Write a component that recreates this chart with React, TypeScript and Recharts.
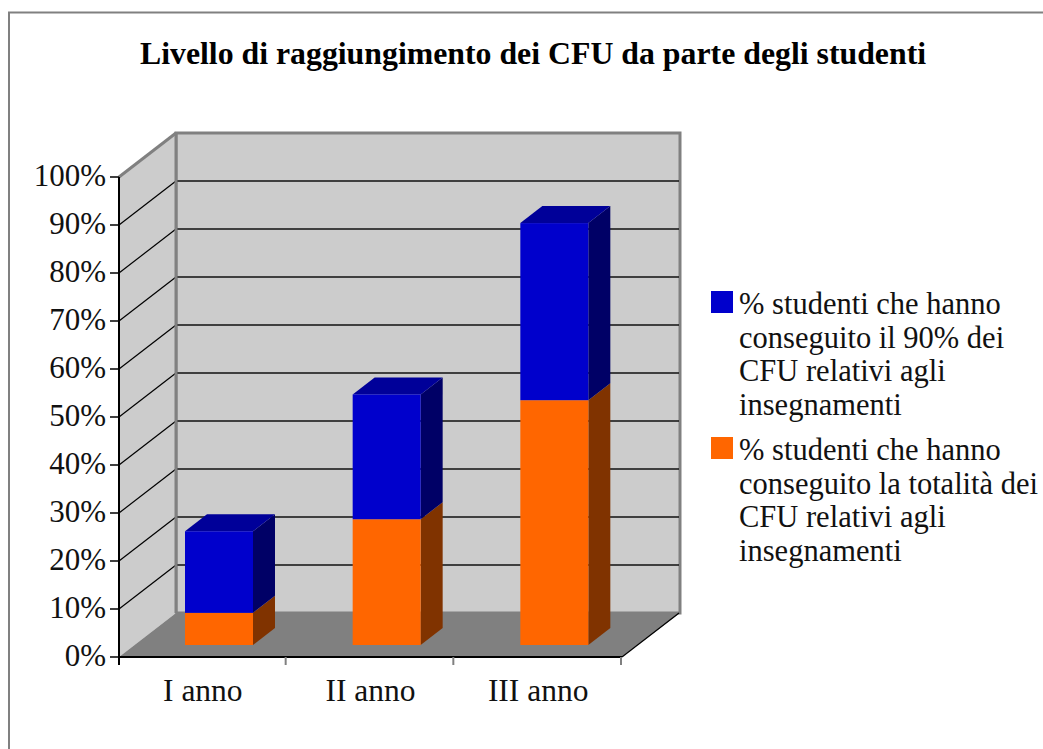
import { BarChart, Bar, XAxis, YAxis, Legend, usePlotArea } from 'recharts';

const categories = ['I anno', 'II anno', 'III anno'];
const totalCfu = [6.7, 26.2, 51];
const ninetyCfu = [17, 26, 36.9];
const yTicks = [0, 10, 20, 30, 40, 50, 60, 70, 80, 90, 100];
const title = 'Livello di raggiungimento dei CFU da parte degli studenti';
const ninetyLines = ['% studenti che hanno', 'conseguito il 90% dei', 'CFU relativi agli', 'insegnamenti'];
const totalLines = ['% studenti che hanno', 'conseguito la totalità dei', 'CFU relativi agli', 'insegnamenti'];

const data = categories.map((name, i) => ({ name, total: totalCfu[i], ninety: ninetyCfu[i] }));

const FONT = '"Liberation Serif", serif';
const BLUE = '#0000cc';
const ORANGE = '#ff6600';

// depth of the fake 3D box
const WALL_DX = 57;
const WALL_DY = -44;
// bars stand part way into the floor
const BAR_DX = 16;
const BAR_DY = -12;
const BAR_DEPTH_X = 22;
const BAR_DEPTH_Y = -17;

function Backdrop() {
  const plot = usePlotArea();
  if (!plot) return null;
  const left = plot.x;
  const right = plot.x + plot.width;
  const bottom = plot.y + plot.height;
  const yOf = (v: number) => plot.y + plot.height * (1 - v / 100);
  return (
    <g>
      <rect x={9} y={12.5} width={1200} height={900} fill="#fff" stroke="#808080" strokeWidth={2} />
      <text x={533} y={64} textAnchor="middle" fontFamily={FONT} fontWeight="bold" fontSize={31.8} fill="#000">
        {title}
      </text>
      <rect
        x={left + WALL_DX}
        y={plot.y + WALL_DY}
        width={plot.width + 1}
        height={plot.height}
        fill="#cccccc"
        stroke="#808080"
        strokeWidth={3}
      />
      <polygon
        points={`${left},${plot.y} ${left + WALL_DX},${plot.y + WALL_DY} ${left + WALL_DX},${bottom + WALL_DY} ${left},${bottom}`}
        fill="#cccccc"
      />
      <line x1={left} y1={plot.y} x2={left + WALL_DX} y2={plot.y + WALL_DY} stroke="#808080" strokeWidth={3} />
      {yTicks.slice(1, -1).map((v) => (
        <g key={v}>
          <line x1={left} y1={yOf(v)} x2={left + WALL_DX} y2={yOf(v) + WALL_DY} stroke="#000" strokeWidth={1.2} />
          <line x1={left + WALL_DX} y1={yOf(v) + WALL_DY} x2={right + WALL_DX} y2={yOf(v) + WALL_DY} stroke="#111" strokeWidth={1.4} />
        </g>
      ))}
      <line x1={left + WALL_DX} y1={plot.y + WALL_DY} x2={left + WALL_DX} y2={bottom + WALL_DY} stroke="#808080" strokeWidth={3} />
      <polygon
        points={`${left},${bottom} ${left + WALL_DX},${bottom + WALL_DY} ${right + WALL_DX + 1},${bottom + WALL_DY} ${right},${bottom}`}
        fill="#808080"
      />
      <line x1={right} y1={bottom} x2={right + WALL_DX} y2={bottom + WALL_DY} stroke="#000" strokeWidth={1.2} />
    </g>
  );
}

function makeBox(side: string, top?: string) {
  return function Box(props: any) {
    const { x, y, width, height, fill } = props;
    const l = x + BAR_DX;
    const r = l + width;
    const t = y + BAR_DY;
    const b = t + height;
    return (
      <g>
        <polygon
          points={`${r},${t} ${r + BAR_DEPTH_X},${t + BAR_DEPTH_Y} ${r + BAR_DEPTH_X},${b + BAR_DEPTH_Y} ${r},${b}`}
          fill={side}
        />
        {top && (
          <polygon
            points={`${l},${t} ${l + BAR_DEPTH_X},${t + BAR_DEPTH_Y} ${r + BAR_DEPTH_X},${t + BAR_DEPTH_Y} ${r},${t}`}
            fill={top}
          />
        )}
        <rect x={l} y={t} width={width} height={height} fill={fill} />
      </g>
    );
  };
}

// ticks sit on the band edges, the label stays in the middle of the band
function CategoryTick(props: any) {
  const { x, y, payload, index } = props;
  const half = 503 / categories.length / 2;
  return (
    <g>
      {index === 0 && <line x1={x - half} y1={y - 8} x2={x - half} y2={y} stroke="#000" strokeWidth={2} />}
      <line x1={x + half - 1} y1={y - 8} x2={x + half - 1} y2={y} stroke="#808080" strokeWidth={2} />
      <text x={x} y={y + 36} textAnchor="middle" fontFamily={FONT} fontSize={31.5} fill="#111">
        {payload.value}
      </text>
    </g>
  );
}

function LegendEntry({ color, lines, top }: { color: string; lines: string[]; top: number }) {
  return (
    <div style={{ position: 'absolute', left: 0, top, whiteSpace: 'nowrap' }}>
      <div style={{ position: 'absolute', left: 0, top: 0, width: 22, height: 22, background: color }} />
      <div style={{ position: 'absolute', left: 28, top: -3, fontFamily: FONT, fontSize: 30.5, lineHeight: '33.7px', color: '#111' }}>
        {lines.map((line) => (
          <div key={line}>{line}</div>
        ))}
      </div>
    </div>
  );
}

function ChartLegend() {
  return (
    <div style={{ position: 'relative', width: 332, height: 300 }}>
      <LegendEntry color={BLUE} lines={ninetyLines} top={0} />
      <LegendEntry color={ORANGE} lines={totalLines} top={146} />
    </div>
  );
}

export default function App() {
  return (
    <div style={{ position: 'absolute', left: 0, top: 0, width: 1043, height: 749, overflow: 'hidden' }}>
      <BarChart
        width={1043}
        height={749}
        data={data}
        barSize={68}
        margin={{ top: 177, right: 421, bottom: 0, left: 0 }}
      >
        <Backdrop />
        <XAxis
          dataKey="name"
          height={92}
          axisLine={{ stroke: '#000', strokeWidth: 2 }}
          tickLine={false}
          tick={<CategoryTick />}
          interval={0}
        />
        <YAxis
          width={119}
          domain={[0, 100]}
          ticks={yTicks}
          interval={0}
          tickFormatter={(v) => `${v}%`}
          axisLine={{ stroke: '#000', strokeWidth: 2 }}
          tickLine={{ stroke: '#000', strokeWidth: 1.5 }}
          tickSize={9}
          tickMargin={4}
          tick={{ fontFamily: FONT, fontSize: 31, fill: '#111', dy: -2 }}
        />
        <Bar dataKey="total" stackId="a" fill={ORANGE} shape={makeBox('#803300')} isAnimationActive={false} />
        <Bar dataKey="ninety" stackId="a" fill={BLUE} shape={makeBox('#000066', '#000099')} isAnimationActive={false} />
        <Legend
          layout="vertical"
          verticalAlign="middle"
          align="center"
          content={<ChartLegend />}
          wrapperStyle={{ left: 711, top: 291, width: 332 }}
        />
      </BarChart>
    </div>
  );
}
